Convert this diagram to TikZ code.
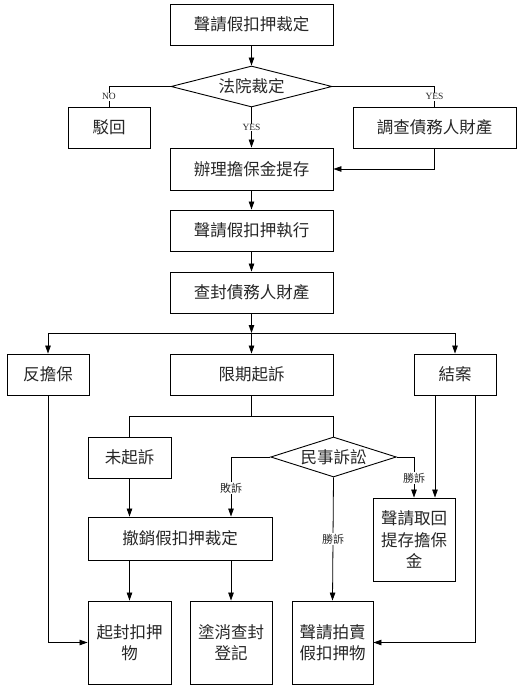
\documentclass[tikz,border=0pt]{standalone}
\usepackage{fontspec}
\newfontfamily\cjk{Noto Sans CJK TC}
\newfontfamily\lab{Liberation Serif}
\usetikzlibrary{shapes.geometric,arrows.meta}
\begin{document}
\begin{tikzpicture}[x=1pt,y=-1pt,
  box/.style={draw=black,line width=0.9pt,minimum width=#1,inner sep=0pt,text=black!85,font=\cjk\fontsize{16.5}{21.5}\selectfont,align=center},
  box/.default=163pt,
  dia/.style={draw=black,line width=0.9pt,diamond,aspect=3.9,inner sep=0pt,text=black!85,font=\cjk\fontsize{16.5}{21.5}\selectfont},
  ln/.style={line width=0.8pt},
  arr/.style={ln,-{Triangle[length=8pt,width=5.5pt]}},
  yl/.style={fill=white,inner sep=0.8pt,font=\lab\fontsize{9.5}{10}\selectfont,text=black!85},
  cl/.style={fill=white,inner sep=0.8pt,font=\cjk\fontsize{11}{12}\selectfont,text=black!85}]
\useasboundingbox (0,0) rectangle (529,690);
% nodes
\node[box,minimum height=41pt] (b1) at (251.5,24.5) {聲請假扣押裁定};
\node[dia,minimum width=161pt,minimum height=41pt] (d1) at (251.5,86.5) {法院裁定};
\node[box=82pt,minimum height=41pt] (bno) at (109,127.5) {駁回};
\node[box=163pt,minimum height=41pt] (binv) at (434.5,127.5) {調查債務人財產};
\node[box,minimum height=42pt] (b2) at (251.5,169) {辦理擔保金提存};
\node[box,minimum height=41pt] (b3) at (251.5,230.5) {聲請假扣押執行};
\node[box,minimum height=41pt] (b4) at (251.5,292.5) {查封債務人財產};
\node[box=82pt,minimum height=41pt] (b5) at (48,374.5) {反擔保};
\node[box,minimum height=41pt] (b6) at (251.5,374.5) {限期起訴};
\node[box=82pt,minimum height=41pt] (b7) at (455,374.5) {結案};
\node[box=83pt,minimum height=41pt] (b8) at (129.5,457.5) {未起訴};
\node[dia,minimum width=121pt,minimum height=40pt] (d2) at (333.5,457) {民事訴訟};
\node[box=82pt,minimum height=83pt] (b9) at (414,539.5) {聲請取回\\提存擔保\\金};
\node[box=184pt,minimum height=43pt] (b10) at (180,538.5) {撤銷假扣押裁定};
\node[box=83pt,minimum height=83pt] (b11) at (129.5,642.5) {起封扣押\\物};
\node[box=82pt,minimum height=83pt] (b12) at (231,642.5) {塗消查封\\登記};
\node[box=81pt,minimum height=83pt] (b13) at (332.5,642.5) {聲請拍賣\\假扣押物};
\coordinate (j1) at (251.5,333);
\coordinate (j2) at (251.5,416);
% connectors
\draw[arr] (b1) -- (d1);
\draw[ln] (d1.west) -| node[yl,pos=0.75] {NO} (bno.north);
\draw[ln] (d1.east) -| node[yl,pos=0.75] {YES} (binv.north);
\draw[arr] (d1.south) -- node[yl,pos=0.5] {YES} (b2.north);
\draw[arr] (binv.south) |- (b2.east);
\draw[arr] (b2) -- (b3);
\draw[arr] (b3) -- (b4);
\draw[arr] (b4.south) -- (j1);
\draw[arr] (j1) -- (b6.north);
\draw[arr] (j1) -| (b5.north);
\draw[arr] (j1) -| (b7.north);
\draw[ln] (b6.south) -- (j2);
\draw[ln] (j2) -| (b8.north);
\draw[ln] (j2) -| (d2.north);
\draw[arr] (d2.west) -| node[cl,pos=0.76] {敗訴} ([xshift=51pt]b10.north);
\draw[arr] (d2.east) -| node[cl,pos=0.76] {勝訴} (b9.north);
\draw[arr] (d2.south) -- node[cl,pos=0.5] {勝訴} (b13.north);
\draw[arr] ([xshift=-20pt]b7.south) -- ([xshift=21pt]b9.north);
\draw[arr] ([xshift=20pt]b7.south) |- (b13.east);
\draw[arr] (b5.south) |- (b11.west);
\draw[arr] (b8.south) -- (b8.south |- b10.north);
\draw[arr] (b8.south |- b10.south) -- (b11.north);
\draw[arr] (b12.north |- b10.south) -- (b12.north);
\end{tikzpicture}
\end{document}
